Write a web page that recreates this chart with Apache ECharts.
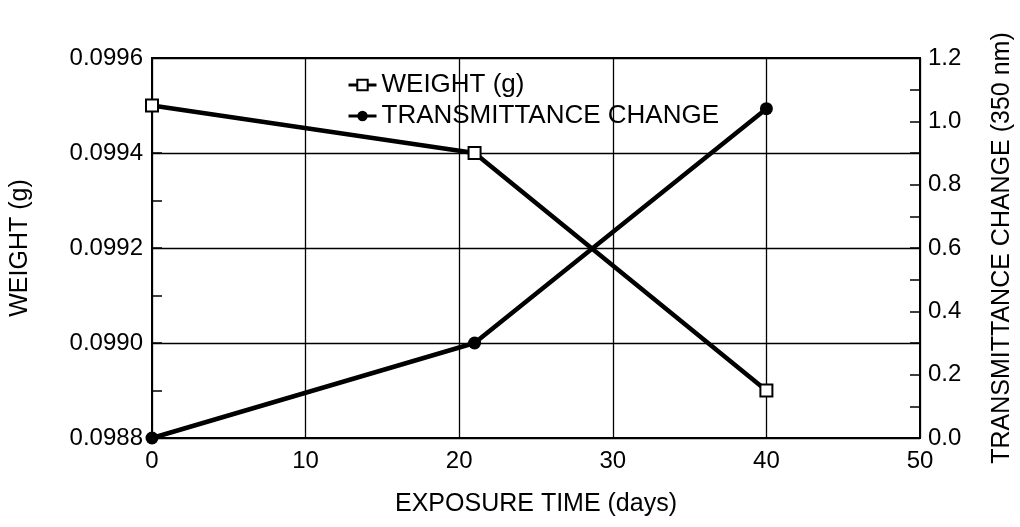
<!DOCTYPE html>
<html>
<head>
<meta charset="utf-8">
<script src="https://cdn.jsdelivr.net/npm/echarts@6/dist/echarts.min.js"></script>
<style>
html,body{margin:0;padding:0;background:#fff;}
#chart{width:1020px;height:527px;}
</style>
</head>
<body>
<div id="chart"></div>
<script>
var days = [0, 21, 40];
var weight = [0.0995, 0.0994, 0.0989];
var transmittance = [0, 0.30, 1.04];
var xTicks = [0, 10, 20, 30, 40, 50];

var FONT = "'Liberation Sans', Arial, sans-serif";
function pairs(xs, ys){ return xs.map(function(x,i){ return [x, ys[i]]; }); }

var chart = echarts.init(document.getElementById('chart'), null, {renderer:'canvas'});
chart.setOption({
  animation: false,
  backgroundColor: '#fff',
  textStyle: {fontFamily: FONT, color: '#000'},
  grid: {left: 152, right: 100, top: 58, bottom: 89, show: true, borderColor: '#000', borderWidth: 2,
    backgroundColor: 'transparent', containLabel: false, outerBoundsMode: 'none'},
  legend: {
    orient: 'vertical', left: 342, top: 67, itemGap: 5, itemWidth: 28, itemHeight: 13,
    textStyle: {fontFamily: FONT, fontSize: 26, color: '#000'},
    lineStyle: {width: 3},
    data: ['WEIGHT (g)', 'TRANSMITTANCE CHANGE']
  },
  xAxis: {
    type: 'value', min: 0, max: 50, interval: 10,
    name: 'EXPOSURE TIME (days)', nameLocation: 'middle', nameGap: 54,
    nameTextStyle: {fontFamily: FONT, fontSize: 25, color: '#000'},
    axisLine: {show: true, lineStyle: {color: '#000', width: 2}},
    axisTick: {show: false},
    axisLabel: {fontFamily: FONT, fontSize: 24, color: '#000', margin: 11,
      formatter: function(v){ return xTicks.indexOf(v) >= 0 ? String(v) : ''; }},
    splitLine: {show: true, lineStyle: {color: '#000', width: 1.3}}
  },
  yAxis: [{
    type: 'value', min: 0.0988, max: 0.0996, interval: 0.0002, position: 'left',
    name: 'WEIGHT (g)', nameLocation: 'middle', nameGap: 119, nameRotate: 90,
    nameTextStyle: {fontFamily: FONT, fontSize: 25, color: '#000'},
    axisLine: {show: true, lineStyle: {color: '#000', width: 2}},
    axisTick: {show: true, inside: true, length: 10, lineStyle: {color: '#000', width: 1.5}},
    minorTick: {show: true, splitNumber: 2, length: 10, lineStyle: {color: '#000', width: 1.5}},
    axisLabel: {fontFamily: FONT, fontSize: 24, color: '#000', margin: 9,
      formatter: function(v){ return v.toFixed(4); }},
    splitLine: {show: true, lineStyle: {color: '#000', width: 1.3}}
  }, {
    type: 'value', min: 0, max: 1.2, interval: 0.2, position: 'right',
    name: 'TRANSMITTANCE CHANGE (350 nm)', nameLocation: 'middle', nameGap: 70, nameRotate: 90,
    nameTextStyle: {fontFamily: FONT, fontSize: 25, color: '#000'},
    axisLine: {show: true, lineStyle: {color: '#000', width: 2}},
    axisTick: {show: true, inside: true, length: 10, lineStyle: {color: '#000', width: 1.5}},
    minorTick: {show: true, splitNumber: 2, length: 10, lineStyle: {color: '#000', width: 1.5}},
    axisLabel: {fontFamily: FONT, fontSize: 24, color: '#000', margin: 8,
      formatter: function(v){ return v.toFixed(1); }},
    splitLine: {show: false}
  }],
  series: [{
    name: 'WEIGHT (g)', type: 'line', yAxisIndex: 0,
    data: pairs(days, weight),
    symbol: 'rect', symbolSize: 12, showAllSymbol: true, z: 3,
    lineStyle: {color: '#000', width: 4.5},
    itemStyle: {color: '#fff', borderColor: '#000', borderWidth: 2}
  }, {
    name: 'TRANSMITTANCE CHANGE', type: 'line', yAxisIndex: 1,
    data: pairs(days, transmittance),
    symbol: 'circle', symbolSize: 13, showAllSymbol: true, z: 4,
    lineStyle: {color: '#000', width: 4.5},
    itemStyle: {color: '#000', borderColor: '#000', borderWidth: 0}
  }]
});
</script>
</body>
</html>
